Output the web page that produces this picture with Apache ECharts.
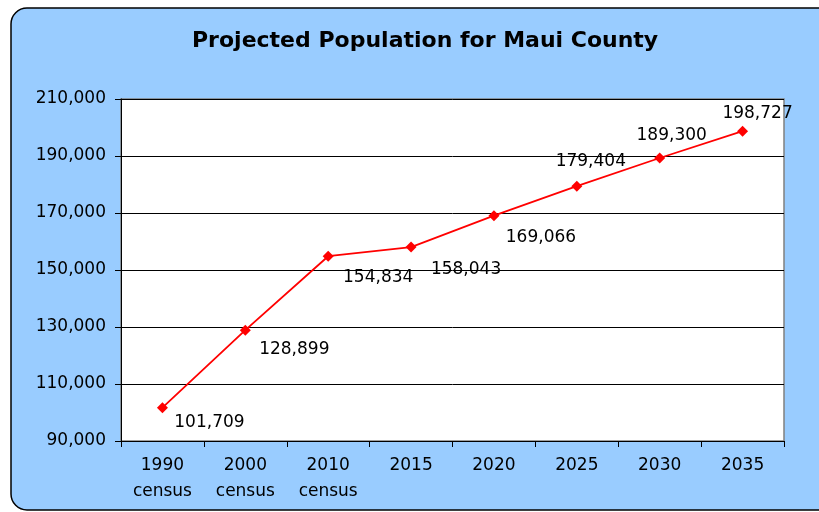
<!DOCTYPE html>
<html>
<head>
<meta charset="utf-8">
<script src="https://cdn.jsdelivr.net/npm/echarts@6/dist/echarts.min.js"></script>
<style>
html,body{margin:0;padding:0;background:#ffffff;}
#chart{width:819px;height:512px;}
</style>
</head>
<body>
<div id="chart"></div>
<script>
const titleText = 'Projected Population for Maui County';
const categories = ['1990\ncensus', '2000\ncensus', '2010\ncensus', '2015', '2020', '2025', '2030', '2035'];
const population = [101709, 128899, 154834, 158043, 169066, 179404, 189300, 198727];
const yTicks = { min: 90000, max: 210000, interval: 20000 };

// label placement relative to each marker (style, not data)
const labelOffsets = [[47, 15], [49, 19], [50, 21], [55, 23], [47, 22], [14, -25], [12, -22], [15, -18]];

const FONT = '"DejaVu Sans", Verdana, sans-serif';
const fmt = v => v.toLocaleString('en-US');

const chart = echarts.init(document.getElementById('chart'), null, { renderer: 'canvas' });
chart.setOption({
  animation: false,
  backgroundColor: '#ffffff',
  graphic: [{
    type: 'rect',
    z: -10,
    silent: true,
    shape: { x: 11, y: 8, width: 840, height: 502, r: 16 },
    style: { fill: '#99CCFF', stroke: '#000000', lineWidth: 1.5 }
  }],
  title: {
    text: titleText,
    left: 187,
    top: 25,
    textStyle: { fontFamily: FONT, fontSize: 22, fontWeight: 'bold', color: '#000000' }
  },
  grid: {
    left: 121, right: 35, top: 99, bottom: 71,
    show: true, backgroundColor: '#ffffff', borderColor: '#808080', borderWidth: 1.5
  },
  xAxis: {
    type: 'category',
    data: categories,
    boundaryGap: true,
    axisLine: { lineStyle: { color: '#000000', width: 1 } },
    axisTick: { show: true, alignWithLabel: false, length: 6, lineStyle: { color: '#000000' } },
    axisLabel: { fontFamily: FONT, fontSize: 17, color: '#000000', margin: 12, lineHeight: 26, interval: 0 },
    splitLine: { show: false }
  },
  yAxis: {
    type: 'value',
    min: yTicks.min, max: yTicks.max, interval: yTicks.interval,
    axisLine: { show: true, lineStyle: { color: '#000000', width: 1 } },
    axisTick: { show: true, length: 6, lineStyle: { color: '#000000' } },
    axisLabel: { fontFamily: FONT, fontSize: 17, color: '#000000', margin: 15, formatter: fmt },
    splitLine: { show: true, lineStyle: { color: '#000000', width: 1 } }
  },
  series: [{
    type: 'line',
    data: population.map((v, i) => ({
      value: v,
      label: { offset: labelOffsets[i] }
    })),
    symbol: 'diamond',
    symbolSize: 11,
    lineStyle: { color: '#FF0000', width: 1.8 },
    itemStyle: { color: '#FF0000' },
    label: {
      show: true,
      position: 'inside',
      fontFamily: FONT,
      fontSize: 17,
      color: '#000000',
      formatter: p => fmt(p.value)
    }
  }]
});
</script>
</body>
</html>
